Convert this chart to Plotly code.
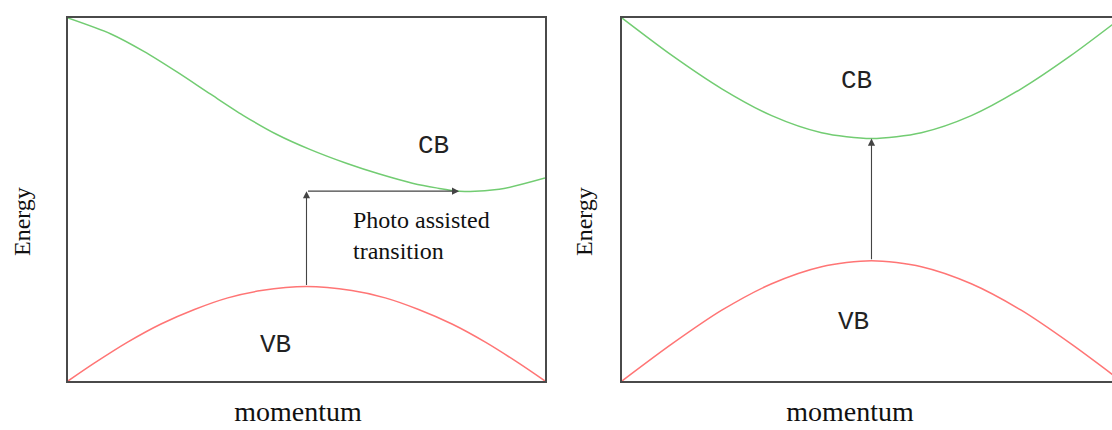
import plotly.graph_objects as go

# ---- data ----
# Left panel: indirect gap (momentum and energy in relative units)
left_cb_k = [0, 0.090, 0.159, 0.230, 0.299, 0.367, 0.438, 0.507, 0.585, 0.653, 0.722, 0.772, 0.821, 0.904, 1.0]
left_cb_E = [1.0, 0.956, 0.908, 0.850, 0.790, 0.732, 0.679, 0.638, 0.599, 0.570, 0.545, 0.532, 0.523, 0.528, 0.559]
left_vb_k = [0, 0.055, 0.125, 0.195, 0.265, 0.335, 0.405, 0.5, 0.595, 0.665, 0.735, 0.805, 0.875, 0.945, 1.0]
left_vb_E = [0, 0.049, 0.107, 0.157, 0.197, 0.229, 0.249, 0.260, 0.249, 0.229, 0.197, 0.157, 0.107, 0.049, 0]
left_trans_k = [0.5, 0.5, 0.82]
left_trans_E = [0.26, 0.523, 0.523]

# Right panel: direct gap
right_k = [-1.0, -0.8, -0.6, -0.4, -0.2, 0, 0.2, 0.4, 0.6, 0.8, 1.0]
right_cb_E = [1.0, 0.897, 0.805, 0.731, 0.684, 0.668, 0.684, 0.731, 0.805, 0.897, 1.0]
right_vb_E = [0, 0.102, 0.195, 0.268, 0.315, 0.3315, 0.315, 0.268, 0.195, 0.102, 0]
right_trans_k = [0, 0]
right_trans_E = [0.3315, 0.668]

# axis labels
x_label = "momentum"
y_label = "Energy"

GREEN = "#72cc72"
RED = "#ff7575"
ARROW = "#444444"
AXIS = "#4a4a4a"
SERIF = "Liberation Serif"
MONO = "Liberation Mono"

W, H = 1112, 430
LW = 2


def px(x):
    return x / W


def py(y):
    return (H - y) / H


fig = go.Figure()
line_kw = dict(width=1.5, shape="spline", smoothing=0.8)
fig.add_trace(go.Scatter(x=left_cb_k, y=left_cb_E, mode="lines", line=dict(color=GREEN, **line_kw),
                         xaxis="x", yaxis="y", showlegend=False, hoverinfo="skip"))
fig.add_trace(go.Scatter(x=left_vb_k, y=left_vb_E, mode="lines", line=dict(color=RED, **line_kw),
                         xaxis="x", yaxis="y", showlegend=False, hoverinfo="skip"))
fig.add_trace(go.Scatter(x=right_k, y=right_cb_E, mode="lines", line=dict(color=GREEN, **line_kw),
                         xaxis="x2", yaxis="y2", showlegend=False, hoverinfo="skip"))
fig.add_trace(go.Scatter(x=right_k, y=right_vb_E, mode="lines", line=dict(color=RED, **line_kw),
                         xaxis="x2", yaxis="y2", showlegend=False, hoverinfo="skip"))

# full-figure overlay axes (pixel units) used only to place the axis labels
fig.add_trace(go.Scatter(x=[298, 850], y=[414, 414], mode="text", text=[x_label, x_label],
                         textfont=dict(family=SERIF, size=28, color="#111"), textposition="middle center",
                         xaxis="x3", yaxis="y3", showlegend=False, hoverinfo="skip"))

annotations = []
arrow_kw = dict(showarrow=True, text="", arrowhead=2, arrowsize=1.3, arrowwidth=1.1,
                arrowcolor=ARROW, standoff=0, startstandoff=0)
for i in range(len(left_trans_k) - 1):
    annotations.append(dict(x=left_trans_k[i + 1], y=left_trans_E[i + 1], ax=left_trans_k[i], ay=left_trans_E[i],
                            xref="x", yref="y", axref="x", ayref="y", **arrow_kw))
annotations.append(dict(x=right_trans_k[1], y=right_trans_E[1], ax=right_trans_k[0], ay=right_trans_E[0],
                        xref="x2", yref="y2", axref="x2", ayref="y2", **arrow_kw))

band_font = dict(family=MONO, size=26, color="#222")
annotations += [
    dict(x=0.766, y=0.647, xref="x", yref="y", text="CB", showarrow=False, font=band_font),
    dict(x=0.434, y=0.099, xref="x", yref="y", text="VB", showarrow=False, font=band_font),
    dict(x=0.593, y=0.40, xref="x", yref="y", text="Photo assisted<br>transition", showarrow=False, align="left",
         xanchor="left", font=dict(family=SERIF, size=24, color="#111")),
    dict(x=-0.06, y=0.827, xref="x2", yref="y2", text="CB", showarrow=False, font=band_font),
    dict(x=-0.072, y=0.162, xref="x2", yref="y2", text="VB", showarrow=False, font=band_font),
]
e_font = dict(family=SERIF, size=24, color="#111")
annotations += [
    dict(x=22, y=222, xref="x3", yref="y3", text=y_label, textangle=-90, showarrow=False, font=e_font),
    dict(x=584, y=222, xref="x3", yref="y3", text=y_label, textangle=-90, showarrow=False, font=e_font),
]

ydom = [py(382 - LW / 2), py(17 + LW / 2)]
common = dict(showgrid=False, zeroline=False, showticklabels=False, ticks="", showline=True,
              linecolor=AXIS, linewidth=LW, fixedrange=True)

fig.update_layout(
    width=W, height=H,
    margin=dict(l=0, r=0, t=0, b=0, autoexpand=False),
    paper_bgcolor="white", plot_bgcolor="rgba(0,0,0,0)",
    xaxis=dict(domain=[px(67 + LW / 2), px(546 - LW / 2)], range=[0, 1], mirror=True, anchor="y", **common),
    yaxis=dict(domain=ydom, range=[0, 1], mirror=True, anchor="x", **common),
    xaxis2=dict(domain=[px(621 + LW / 2), 1.0], range=[-1, 0.964], mirror=True, anchor="y2", **common),
    yaxis2=dict(domain=ydom, range=[0, 1], mirror=False, anchor="x2", **common),
    xaxis3=dict(domain=[0, 1], range=[0, W], visible=False, anchor="y3", fixedrange=True),
    yaxis3=dict(domain=[0, 1], range=[H, 0], visible=False, anchor="x3", fixedrange=True),
    annotations=annotations,
    showlegend=False,
)

fig.write_html(
    "out.html",
    config={"displayModeBar": False, "staticPlot": True},
    post_script="document.body.style.margin='0';document.body.style.overflow='hidden';"
                "document.documentElement.style.overflow='hidden';",
)
